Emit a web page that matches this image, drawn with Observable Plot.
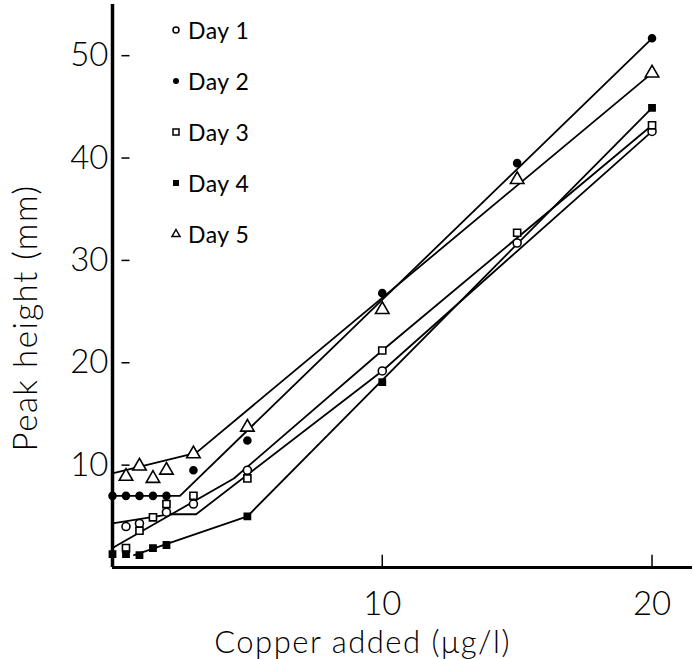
<!DOCTYPE html>
<html>
<head>
<meta charset="utf-8">
<script src="https://cdn.jsdelivr.net/npm/d3@7"></script>
<script src="https://cdn.jsdelivr.net/npm/@observablehq/plot@0.6"></script>
<style>
  html, body { margin: 0; padding: 0; background: #fff; }
  #wrap { position: relative; width: 693px; height: 659px; font-family: Lato, "Open Sans", sans-serif; }
  #legend { position: absolute; left: 166px; top: 14px; font-size: 23px; font-weight: 400; color: #000; letter-spacing: 0.5px; }
  #legend .row { height: 51px; display: flex; align-items: flex-start; line-height: 32px; }
  #legend svg { width: 20px; height: 32px; margin-right: 2px; }
</style>
</head>
<body>
<div id="wrap"><div id="legend"></div></div>
<script>
// ---- Data ----
const days = ["Day 1", "Day 2", "Day 3", "Day 4", "Day 5"];
const xTicks = [10, 20];
const yTicks = [10, 20, 30, 40, 50];
const xLabel = "Copper added (\u03BCg/l)";
const yLabel = "Peak height (mm)";

// measured points
const day1X = [0.5, 1, 2, 3, 5, 10, 15, 20];
const day1Y = [4.0, 4.3, 5.4, 6.2, 9.5, 19.2, 31.7, 42.6];
const day2X = [0, 0.5, 1, 1.5, 2, 3, 5, 10, 15, 20];
const day2Y = [7.0, 7.0, 7.0, 7.0, 7.0, 9.5, 12.4, 26.8, 39.5, 51.7];
const day3X = [0.5, 1, 1.5, 2, 3, 5, 10, 15, 20];
const day3Y = [1.9, 3.6, 4.9, 6.2, 7.0, 8.7, 21.2, 32.7, 43.2];
const day4X = [0, 0.5, 1, 1.5, 2, 5, 10, 20];
const day4Y = [1.3, 1.3, 1.2, 1.9, 2.2, 5.0, 18.1, 44.9];
const day5X = [0.5, 1, 1.5, 2, 3, 5, 10, 15, 20];
const day5Y = [8.9, 9.9, 8.7, 9.5, 11.1, 13.7, 25.2, 37.9, 48.3];

// hand-drawn fitted lines (vertices)
const line1X = [0, 2.1, 3.1, 10, 20];
const line1Y = [4.3, 5.2, 5.2, 19.2, 42.6];
const line2X = [0, 2.5, 20];
const line2Y = [7.0, 7.0, 51.7];
const line3X = [0, 4.5, 10, 20];
const line3Y = [1.9, 8.7, 21.2, 43.2];
const line4X = [0.8, 5, 20];
const line4Y = [1.2, 5.0, 44.9];
const line5X = [0, 3.1, 20];
const line5Y = [9.2, 11.2, 48.3];

// ---- build tables ----
const pts = (xs, ys) => xs.map((x, i) => ({x, y: ys[i]}));
const P = [pts(day1X, day1Y), pts(day2X, day2Y), pts(day3X, day3Y), pts(day4X, day4Y), pts(day5X, day5Y)];
const L = [pts(line1X, line1Y), pts(line2X, line2Y), pts(line3X, line3Y), pts(line4X, line4Y), pts(line5X, line5Y)];

const styles = [
  {symbol: "circle", fill: "white", stroke: "black", r: 4},
  {symbol: "circle", fill: "black", stroke: "black", r: 3.5},
  {symbol: "square", fill: "white", stroke: "black", r: 4},
  {symbol: "square", fill: "black", stroke: "black", r: 3.5},
  {symbol: "triangle", fill: "white", stroke: "black", r: 5}
];

const chart = Plot.plot({
  width: 693,
  height: 659,
  marginLeft: 112,
  marginRight: 1,
  marginTop: 4,
  marginBottom: 92,
  x: {domain: [0, 21.5]},
  y: {domain: [0, 55]},
  style: {fontFamily: "Lato, 'Open Sans', sans-serif", background: "white", color: "black"},
  marks: [
    Plot.axisY(yTicks, {tickSize: 0, tickPadding: 4, fontSize: 33, fontWeight: 300, label: null}),
    Plot.axisX(xTicks, {tickSize: 0, tickPadding: 24, fontSize: 33, fontWeight: 300, label: null}),
    Plot.ruleY(yTicks, {x1: 0.35, x2: 0.65, stroke: "black", strokeWidth: 1.5}),
    Plot.ruleX(xTicks, {y1: 0, y2: 1.2, stroke: "black", strokeWidth: 1.5}),
    ...L.map(d => Plot.line(d, {x: "x", y: "y", stroke: "black", strokeWidth: 1.8})),
    Plot.ruleX([0], {stroke: "black", strokeWidth: 3.5}),
    Plot.ruleY([0], {stroke: "black", strokeWidth: 3}),
    ...P.map((d, i) => Plot.dot(d, {x: "x", y: "y", symbol: styles[i].symbol, r: styles[i].r,
      fill: styles[i].fill, stroke: styles[i].stroke, strokeWidth: 1.6})),
    Plot.text([xLabel], {frameAnchor: "bottom", textAnchor: "middle", dx: -40, dy: 76, fontSize: 31, fontWeight: 300, lineAnchor: "middle"}),
    Plot.text([yLabel], {frameAnchor: "left", textAnchor: "middle", rotate: -90, dx: -86, dy: 32, fontSize: 33, fontWeight: 300, lineAnchor: "middle"})
  ]
});
// widen the label lettering slightly to match the reference's broader face
d3.select(chart).selectAll("text").filter(function () {
  const t = this.textContent;
  return t === xLabel || t === yLabel;
}).style("letter-spacing", "1.5px");

const wrap = document.getElementById("wrap");
wrap.insertBefore(chart, wrap.firstChild);

// legend overlay
const legend = document.getElementById("legend");
const glyph = [
  '<circle cx="10" cy="16" r="3" fill="white" stroke="black" stroke-width="1.5"/>',
  '<circle cx="10" cy="16" r="3" fill="black"/>',
  '<rect x="7" y="13" width="6" height="6" fill="white" stroke="black" stroke-width="1.5"/>',
  '<rect x="7" y="13" width="6" height="6" fill="black"/>',
  '<path d="M10,11.5 L14,18.5 L6,18.5 Z" fill="white" stroke="black" stroke-width="1.5"/>'
];
days.forEach((d, i) => {
  const row = document.createElement("div");
  row.className = "row";
  row.innerHTML = `<svg viewBox="0 0 20 32">${glyph[i]}</svg><span>${d}</span>`;
  legend.appendChild(row);
});
</script>
</body>
</html>
